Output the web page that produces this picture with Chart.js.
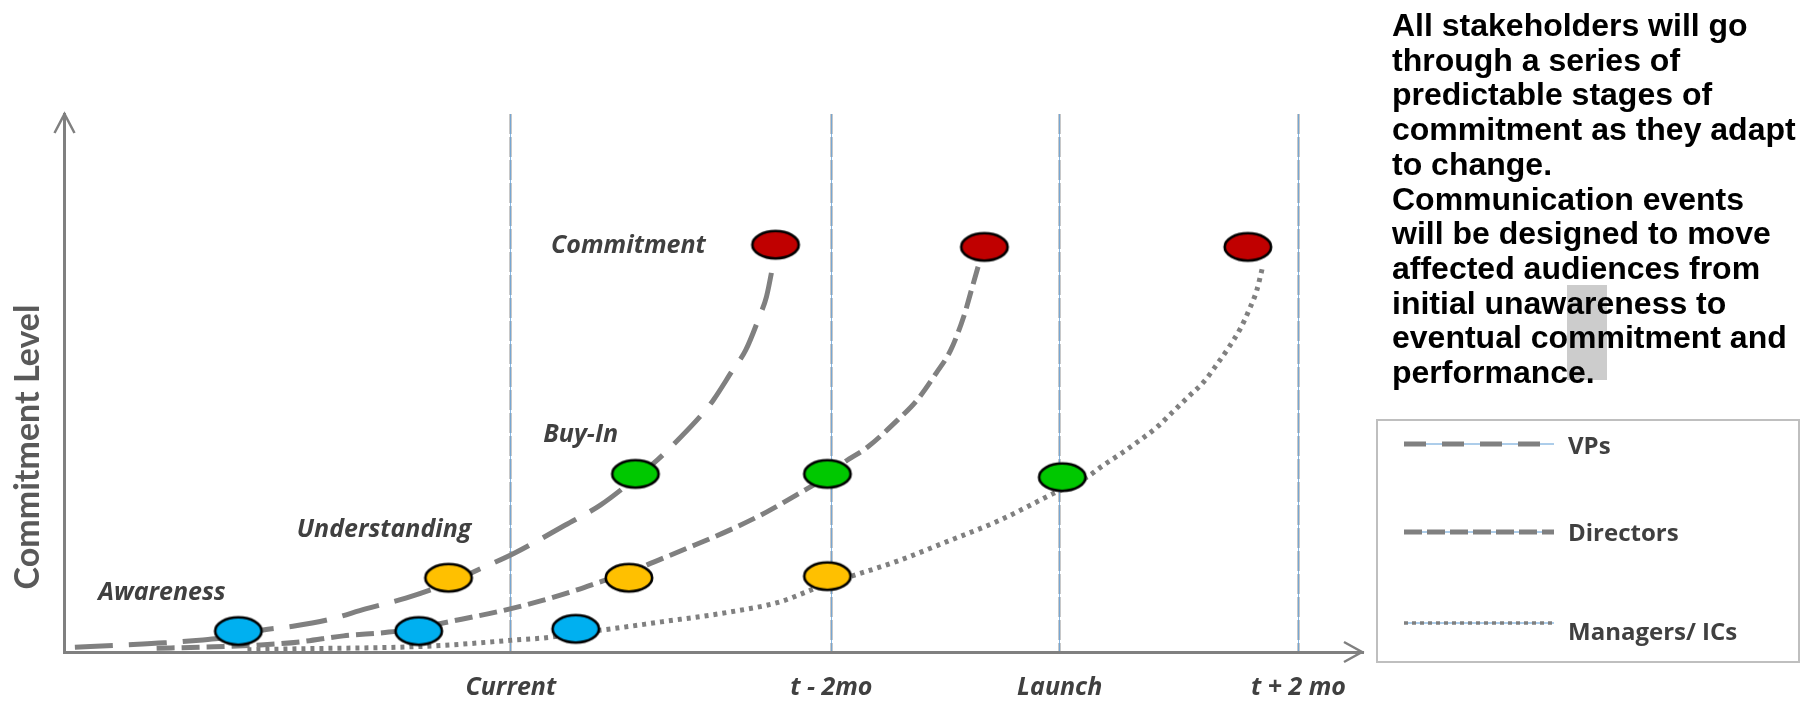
<!DOCTYPE html>
<html>
<head>
<meta charset="utf-8">
<script src="https://cdn.jsdelivr.net/npm/chart.js@4.4.1/dist/chart.umd.min.js"></script>
<style>
  html, body { margin: 0; padding: 0; background: #fff; }
  #wrap { position: relative; width: 1801px; height: 705px; overflow: hidden; }
  #chart { position: absolute; left: 0; top: 0; }
  #mark { position: absolute; left: 1567px; top: 285px; width: 40px; height: 95px; background: #cccccc; }
  #note { position: absolute; left: 1392px; top: 8px; font: bold 32px "Liberation Sans", Arial, sans-serif;
          line-height: 34.7px; color: #000; white-space: nowrap; }
  #legend { position: absolute; left: 1376px; top: 419px; width: 420px; height: 240px; border: 2px solid #bfbfbf; }
  .row { position: absolute; left: 26px; height: 30px; display: flex; align-items: center; }
  .row span { font: bold 24px "Open Sans", Lato, sans-serif; color: #404040; margin-left: 14px; position: relative; }
</style>
</head>
<body>
<div id="wrap">
  <canvas id="chart" width="1801" height="705"></canvas>
  <div id="mark"></div>
  <div id="note"></div>
  <div id="legend"></div>
</div>
<script>
// axis ranges (arbitrary time / commitment units)
const xMin = 0, xMax = 100, yMin = 0, yMax = 100;

const milestoneLabels = ['Current', 't - 2mo', 'Launch', 't + 2 mo'];
const milestoneX = [34.4, 59.1, 76.7, 95.1];

const seriesNames = ['VPs', 'Directors', 'Managers/ ICs'];
const stageNames = ['Awareness', 'Understanding', 'Buy-In', 'Commitment'];
const stageColors = ['#00b0f0', '#ffc000', '#00c800', '#c00000'];

// stage markers
const vpStageX  = [13.4, 29.6, 44.0, 54.8];
const vpStageY  = [3.9, 13.8, 33.1, 75.7];
const dirStageX = [27.3, 43.5, 58.8, 70.9];
const dirStageY = [3.9, 13.8, 33.1, 75.3];
const mgrStageX = [39.4, 58.8, 76.9, 91.2];
const mgrStageY = [4.3, 14.1, 32.5, 75.3];

// curves
const vpCurveX = [0.8, 4.4, 7.7, 10.4, 13.4, 15.3, 17.6, 20.5, 23.2, 26.3, 29.6, 31.8, 34.7, 38.6, 41.3, 44.0, 45.7, 46.9, 49.1, 50.0, 51.5, 52.5, 53.6, 54.1, 54.7];
const vpCurveY = [0.9, 1.3, 1.7, 2.2, 3.0, 4.1, 4.8, 6.1, 8.0, 10.0, 12.8, 15.2, 18.4, 23.6, 27.3, 32.3, 35.7, 38.5, 44.1, 46.8, 52.4, 56.1, 62.6, 66.0, 73.2];
const dirCurveX = [7.1, 10.4, 15.1, 18.2, 21.5, 25.0, 27.3, 30.6, 33.6, 36.7, 39.7, 41.5, 43.5, 44.9, 47.7, 51.3, 54.1, 56.7, 58.8, 60.0, 61.9, 64.2, 65.7, 67.2, 68.3, 69.3, 69.9, 70.6];
const dirCurveY = [0.7, 0.9, 1.3, 1.9, 3.0, 3.7, 4.5, 6.1, 7.6, 9.5, 11.7, 13.2, 14.7, 16.2, 19.0, 22.7, 26.0, 29.6, 32.7, 35.1, 38.1, 43.1, 46.8, 51.9, 56.1, 62.3, 67.3, 73.2];
const mgrCurveX = [14.1, 18.2, 25.9, 29.7, 34.5, 37.6, 39.5, 41.4, 46.0, 51.2, 55.1, 57.5, 59.0, 60.9, 64.2, 68.1, 72.0, 76.0, 78.8, 80.0, 81.5, 82.9, 84.2, 85.4, 86.6, 87.8, 88.8, 89.7, 90.6, 91.3, 91.9, 92.3];
const mgrCurveY = [0.4, 0.6, 0.9, 1.3, 2.2, 2.8, 3.7, 4.1, 5.6, 7.4, 9.3, 11.5, 13.0, 14.3, 16.9, 20.6, 24.4, 29.2, 32.5, 34.6, 37.0, 39.4, 41.8, 44.6, 47.4, 50.2, 53.4, 56.5, 60.0, 63.6, 67.3, 71.2];

// stage label anchors (left edge, middle)
const stageLabelX = [2.6, 17.9, 36.9, 37.5];
const stageLabelY = [11.0, 22.7, 40.3, 75.5];

const noteLines = [
  'All stakeholders will go', 'through a series of', 'predictable stages of',
  'commitment as they adapt', 'to change.', 'Communication events',
  'will be designed to move', 'affected audiences from', 'initial unawareness to',
  'eventual commitment and', 'performance.'
];

const lineStyles = [
  { dash: [38, 16], legendDash: [22, 16], width: 5, legendWidth: 5 },
  { dash: [18, 7],  legendDash: [18, 5],  width: 5, legendWidth: 5 },
  { dash: [4, 5],   legendDash: [4, 4],   width: 5, legendWidth: 3.5 }
];
const gray = '#808080';
const textGray = '#404040';
const labelFont = '"Open Sans", Lato, sans-serif';

function zip(xs, ys) { return xs.map((x, i) => ({ x, y: ys[i] })); }

function ellipse(color) {
  const c = document.createElement('canvas');
  c.width = 52; c.height = 33;
  const g = c.getContext('2d');
  g.beginPath();
  g.ellipse(26, 16.5, 23.2, 13.7, 0, 0, Math.PI * 2);
  g.fillStyle = color;
  g.fill();
  g.lineWidth = 2.6;
  g.strokeStyle = '#000';
  g.stroke();
  return c;
}
const markerImgs = stageColors.map(ellipse);

const curves = [zip(vpCurveX, vpCurveY), zip(dirCurveX, dirCurveY), zip(mgrCurveX, mgrCurveY)];
const stages = [zip(vpStageX, vpStageY), zip(dirStageX, dirStageY), zip(mgrStageX, mgrStageY)];

const datasets = [];
seriesNames.forEach((name, i) => {
  datasets.push({
    label: name,
    data: curves[i],
    borderColor: gray,
    borderWidth: lineStyles[i].width,
    borderDash: lineStyles[i].dash,
    borderCapStyle: 'butt',
    pointRadius: 0,
    cubicInterpolationMode: 'monotone',
    fill: false,
    order: 1
  });
  datasets.push({
    label: name + ' stages',
    data: stages[i],
    showLine: false,
    pointStyle: markerImgs,
    pointRadius: 12,
    order: 0
  });
});

const decor = {
  id: 'decor',
  afterDatasetsDraw(chart) {
    const { ctx, chartArea: a, scales: { x, y } } = chart;
    ctx.save();
    ctx.fillStyle = textGray;
    ctx.font = 'italic bold 25px ' + labelFont;
    ctx.textAlign = 'left';
    ctx.textBaseline = 'middle';
    stageNames.forEach((s, i) => {
      ctx.fillText(s, x.getPixelForValue(stageLabelX[i]), y.getPixelForValue(stageLabelY[i]));
    });
    // axis arrow heads
    ctx.strokeStyle = gray;
    ctx.lineWidth = 2.5;
    ctx.beginPath();
    ctx.moveTo(a.right - 18, a.bottom - 10);
    ctx.lineTo(a.right, a.bottom);
    ctx.lineTo(a.right - 18, a.bottom + 10);
    ctx.moveTo(a.left - 10, a.top + 19);
    ctx.lineTo(a.left, a.top);
    ctx.lineTo(a.left + 10, a.top + 19);
    ctx.stroke();
    // y axis title
    ctx.translate(28.5, 447);
    ctx.rotate(-Math.PI / 2);
    ctx.textAlign = 'center';
    ctx.fillStyle = '#595959';
    ctx.font = 'bold 34px Lato, "Open Sans", sans-serif';
    ctx.fillText('Commitment Level', 0, 0);
    ctx.restore();
  }
};

const milestoneTicks = (scale) => { scale.ticks = milestoneX.map(v => ({ value: v })); };

new Chart(document.getElementById('chart'), {
  type: 'line',
  data: { datasets },
  options: {
    responsive: false,
    animation: false,
    layout: { padding: { top: 114, right: 439, left: 0, bottom: 0 } },
    plugins: { legend: { display: false }, title: { display: false }, tooltip: { enabled: false } },
    scales: {
      x: {
        type: 'linear', min: xMin, max: xMax,
        afterBuildTicks: milestoneTicks,
        afterFit(s) { s.height = 53; },
        grid: { color: '#c8c8c8', lineWidth: 3, drawTicks: false },
        border: { display: true, color: gray, width: 3, dash: [20, 3] },
        ticks: {
          autoSkip: false, maxRotation: 0, padding: 21, color: textGray,
          font: { family: labelFont, size: 25, weight: 'bold', style: 'italic' },
          callback: (v, i) => milestoneLabels[i]
        }
      },
      x2: {
        type: 'linear', position: 'bottom', min: xMin, max: xMax,
        afterBuildTicks: milestoneTicks,
        afterFit(s) { s.height = 0; },
        grid: { color: 'rgba(91,155,213,0.75)', lineWidth: 1, drawTicks: false },
        border: { display: false },
        ticks: { display: false }
      },
      y: {
        type: 'linear', min: yMin, max: yMax,
        afterFit(s) { s.width = 64.5; },
        grid: { display: false, drawTicks: false },
        border: { display: true, color: gray, width: 3 },
        ticks: { display: false }
      }
    }
  },
  plugins: [decor]
});

// side note
document.getElementById('note').innerHTML = noteLines.join('<br>');

// legend
const legend = document.getElementById('legend');
const rowCenters = [23, 111, 202];
const labelShift = [0, -1, 7];
seriesNames.forEach((name, i) => {
  const st = lineStyles[i];
  const row = document.createElement('div');
  row.className = 'row';
  row.style.top = (rowCenters[i] - 15) + 'px';
  row.innerHTML = `
    <svg width="150" height="12">
      <line x1="0" y1="6" x2="150" y2="6" stroke="#5b9bd5" stroke-width="1"/>
      <line x1="0" y1="6" x2="150" y2="6" stroke="${gray}" stroke-width="${st.legendWidth}" stroke-dasharray="${st.legendDash.join(' ')}"/>
    </svg>
    <span style="top:${labelShift[i]}px">${name}</span>`;
  legend.appendChild(row);
});
</script>
</body>
</html>
